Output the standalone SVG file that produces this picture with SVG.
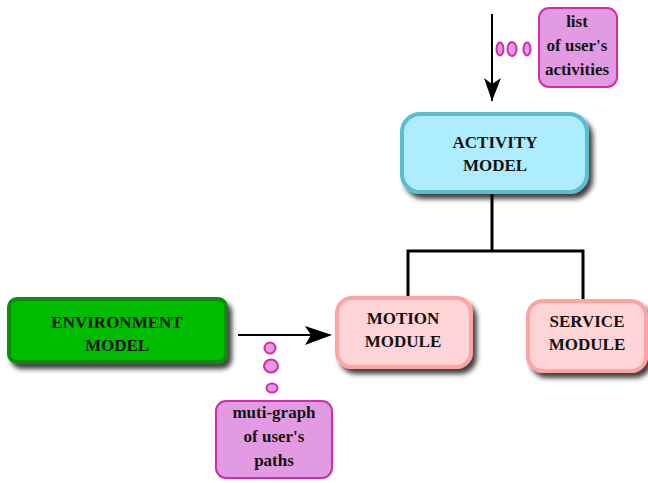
<svg xmlns="http://www.w3.org/2000/svg" width="648" height="483" viewBox="0 0 648 483">
<style>
text{font-family:"Liberation Serif","Times New Roman",serif;font-weight:bold;font-size:17px;fill:#111;text-anchor:middle}
.sh{filter:url(#ds)}
.conn{stroke:#000;stroke-width:3;fill:none}
.arr{stroke:#000;stroke-width:2;fill:none;marker-end:url(#ah)}
.call{fill:#E29AE2;stroke:#D22CA8;stroke-width:2}
</style>
<defs>
<filter id="ds" x="-20%" y="-20%" width="140%" height="150%">
<feDropShadow dx="4" dy="5" stdDeviation="2.5" flood-color="#000" flood-opacity="0.75"/>
</filter>
<marker id="ah" viewBox="0 0 10 10" refX="10" refY="5" markerWidth="14" markerHeight="11" markerUnits="userSpaceOnUse" orient="auto" preserveAspectRatio="none">
<path d="M0,0 L10,5 L0,10 L3,5 Z" fill="#000"/>
</marker>
</defs>
<g id="connectors">
<path class="conn" d="M492,192 V251 M408,251 H583 M408,249.5 V297 M583,249.5 V300"/>
<line x1="492" y1="14" x2="492" y2="101" stroke="#000" stroke-width="2"/>
<path d="M484,78 L492,101 L501,78 L492,84 Z" fill="#000"/>
<line x1="238" y1="335" x2="330" y2="335" stroke="#000" stroke-width="2"/>
<path d="M305,326 L332,335 L305,345 L311,335 Z" fill="#000"/>
</g>
<g id="activity-model">
<rect class="sh" x="402" y="114" width="185" height="78" rx="18" fill="#AEEDFF" stroke="#5CBCD4" stroke-width="4"/>
<text x="495" y="148">ACTIVITY</text>
<text x="495" y="171">MODEL</text>
</g>
<g id="environment-model">
<rect class="sh" x="9" y="299" width="217" height="63" rx="8" fill="#00BC00" stroke="#0C8C0C" stroke-width="4"/>
<text x="117" y="328">ENVIRONMENT</text>
<text x="117" y="351">MODEL</text>
</g>
<g id="motion-module">
<rect class="sh" x="337" y="298" width="134" height="69" rx="15" fill="#FFD4D6" stroke="#FFA3A3" stroke-width="4"/>
<text x="403" y="324">MOTION</text>
<text x="403" y="347">MODULE</text>
</g>
<g id="service-module">
<rect class="sh" x="528" y="301" width="118" height="70" rx="15" fill="#FFD4D6" stroke="#FFA3A3" stroke-width="4"/>
<text x="587" y="327">SERVICE</text>
<text x="587" y="350">MODULE</text>
</g>
<g id="callout-activities">
<ellipse class="call" cx="500" cy="49" rx="3.5" ry="6.5"/>
<ellipse class="call" cx="512" cy="49" rx="4.5" ry="7"/>
<ellipse class="call" cx="527" cy="49" rx="3.5" ry="6.5"/>
<rect class="call" x="539" y="8" width="78" height="79" rx="10"/>
<text x="577" y="27">list</text>
<text x="577" y="51">of user's</text>
<text x="577" y="75">activities</text>
</g>
<g id="callout-paths">
<ellipse class="call" cx="270" cy="348" rx="5.5" ry="5.5"/>
<ellipse class="call" cx="271" cy="366" rx="7" ry="6.5"/>
<ellipse class="call" cx="272" cy="388" rx="5.5" ry="4.5"/>
<rect class="call" x="216" y="401" width="116" height="77" rx="10"/>
<text x="274" y="418">muti-graph</text>
<text x="274" y="442">of user's</text>
<text x="274" y="466">paths</text>
</g>
</svg>
